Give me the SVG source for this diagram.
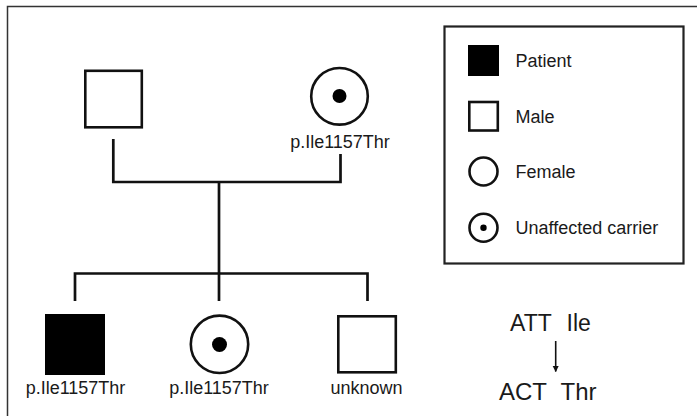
<svg xmlns="http://www.w3.org/2000/svg" width="697" height="416" viewBox="0 0 697 416">
  <style>
    .sym { fill: #fff; stroke: #111; stroke-width: 2.6; }
    .fill { fill: #000; stroke: none; }
    .dot { fill: #000; }
    .line { fill: none; stroke: #111; stroke-width: 2.7; stroke-linecap: butt; }
    .lbl { font-family: "Liberation Sans", Arial, sans-serif; font-size: 18px; fill: #1a1a1a; }
    .big { font-family: "Liberation Sans", Arial, sans-serif; font-size: 23px; fill: #1a1a1a; }
  </style>
  <defs>
    <marker id="arrowhead" viewBox="0 0 10 10" refX="9" refY="5" markerWidth="6" markerHeight="8" markerUnits="userSpaceOnUse" orient="auto">
      <path d="M0,0 L10,5 L0,10 z" fill="#111"/>
    </marker>
  </defs>
  <rect width="697" height="416" fill="#fff"/>
  <!-- page frame (top and left edges only) -->
  <path d="M7.5,416 V6.5 H697" fill="none" stroke="#333" stroke-width="1.5"/>

  <!-- connectors -->
  <g id="connectors" class="line">
    <path d="M113.3,139 V182 H340.5 V154"/>
    <path d="M219,182 V273.5"/>
    <path d="M75,301 V273.5 H367.5 V301"/>
    <path d="M219,273.5 V301"/>
  </g>

  <!-- generation I -->
  <g id="father">
    <rect class="sym" x="85.3" y="70.8" width="56.5" height="56.5"/>
  </g>
  <g id="mother">
    <circle class="sym" cx="339.5" cy="96.3" r="28.3"/>
    <circle class="dot" cx="339.5" cy="96" r="7"/>
    <text class="lbl" x="340" y="147.5" text-anchor="middle">p.Ile1157Thr</text>
  </g>

  <!-- generation II -->
  <g id="patient">
    <rect class="fill" x="45" y="314" width="60" height="61"/>
    <text class="lbl" x="75.5" y="394" text-anchor="middle">p.Ile1157Thr</text>
  </g>
  <g id="sister">
    <circle class="sym" cx="219.5" cy="344.3" r="28.7"/>
    <circle class="dot" cx="219.5" cy="344.5" r="7.5"/>
    <text class="lbl" x="219" y="394" text-anchor="middle">p.Ile1157Thr</text>
  </g>
  <g id="brother">
    <rect class="sym" x="338.3" y="316.3" width="57.5" height="56"/>
    <text class="lbl" x="366.5" y="394" text-anchor="middle">unknown</text>
  </g>

  <!-- legend -->
  <g id="legend">
    <rect x="444.5" y="26.5" width="239" height="237" fill="none" stroke="#222" stroke-width="2.2"/>
    <rect class="fill" x="468" y="45" width="31" height="31"/>
    <text class="lbl" x="515.5" y="67">Patient</text>
    <rect class="sym" x="469.3" y="102" width="28.5" height="28.5"/>
    <text class="lbl" x="515.5" y="123">Male</text>
    <circle class="sym" cx="483.5" cy="171.5" r="14"/>
    <text class="lbl" x="515.5" y="178">Female</text>
    <circle class="sym" cx="483.5" cy="227.8" r="14"/>
    <circle class="dot" cx="483.5" cy="227.8" r="3.2"/>
    <text class="lbl" x="515.5" y="234">Unaffected carrier</text>
  </g>

  <!-- codon change -->
  <g id="codon">
    <text class="big" x="510" y="331">ATT</text>
    <text class="big" x="566.5" y="331">Ile</text>
    <line x1="555.7" y1="341" x2="555.7" y2="371.5" stroke="#111" stroke-width="1.6" marker-end="url(#arrowhead)"/>
    <text class="big" x="499" y="400" style="font-size:24px">ACT</text>
    <text class="big" x="560.5" y="400" style="font-size:24px">Thr</text>
  </g>
</svg>
